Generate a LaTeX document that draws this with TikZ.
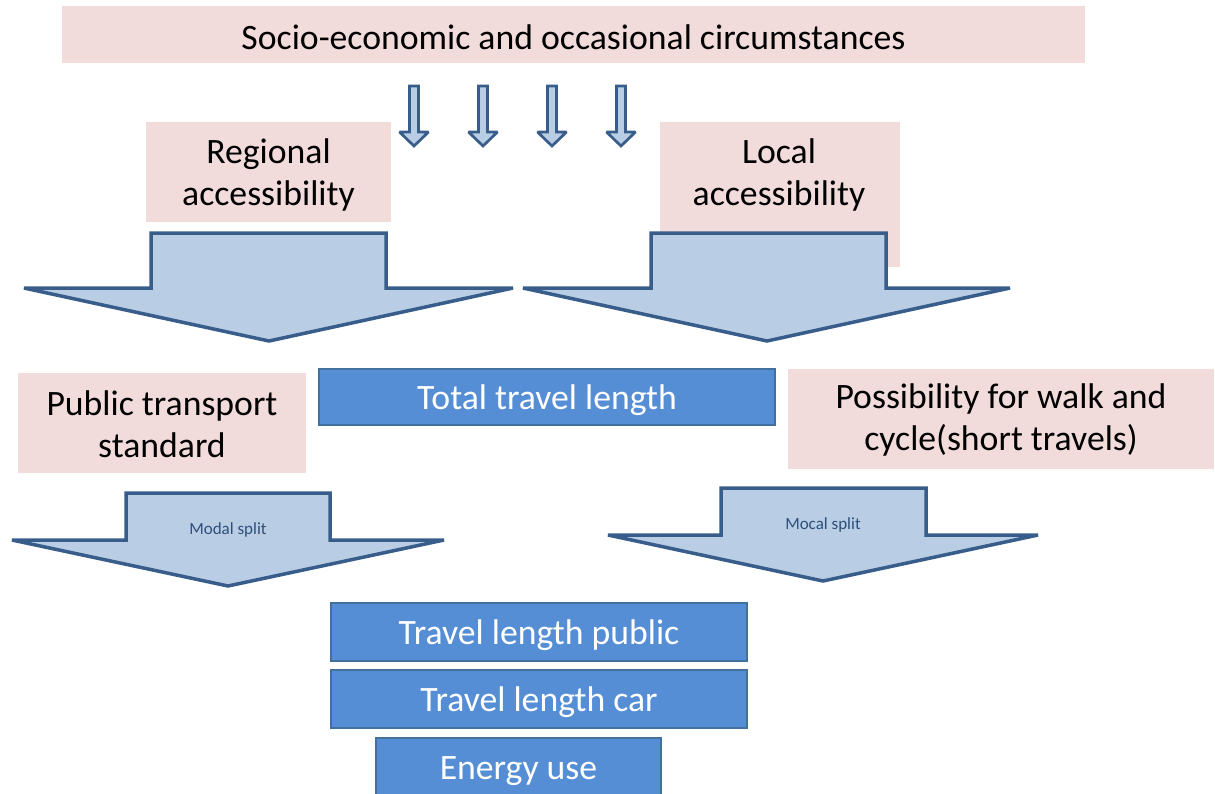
\documentclass[tikz,border=0pt]{standalone}
\usepackage{fontspec}
\setmainfont{Carlito}
\definecolor{pinkfill}{HTML}{F2DCDB}
\definecolor{bluefill}{HTML}{558ED5}
\definecolor{blueline}{HTML}{41719C}
\definecolor{arrowfill}{HTML}{B9CDE5}
\definecolor{arrowline}{HTML}{385D8A}
\definecolor{splittext}{HTML}{2E4F7A}
\tikzset{
  pinkbox/.style={fill=pinkfill, draw=none, inner sep=0pt},
  bluebox/.style={fill=bluefill, draw=blueline, line width=2bp, inner sep=0pt},
  boxtext/.style={inner sep=0pt, align=center,
    font=\fontsize{35.7bp}{42bp}\selectfont, text=black},
  whitetext/.style={boxtext, text=white},
  bigarrow/.style={fill=arrowfill, draw=arrowline, line width=3.5bp,
    line join=miter, miter limit=1.5},
  smallarrow/.style={fill=arrowfill, draw=arrowline, line width=2.7bp,
    line join=miter, miter limit=1.5},
  splitlabel/.style={font=\fontsize{17bp}{20bp}\selectfont, text=splittext, inner sep=0pt}
}
\begin{document}
\begin{tikzpicture}[x=1bp, y=-1bp]
\useasboundingbox (0,0) rectangle (1215,794);
\clip (0,0) rectangle (1215,794);

% top box
\node[pinkbox, minimum width=1023bp, minimum height=57bp] (sociobox) at (573.5,34.5) {};
\node[boxtext] (socio) at ([yshift=-2.5bp]sociobox.center)
  {Socio-economic and occasional circumstances};

% small arrows
\foreach \cx in {414,483,552,621}{
  \draw[smallarrow] (\cx-4.5,86) -- (\cx+4.5,86) -- (\cx+4.5,132) -- (\cx+14.5,132)
    -- (\cx,146) -- (\cx-14.5,132) -- (\cx-4.5,132) -- cycle;
}

% regional / local boxes
\node[pinkbox, minimum width=245bp, minimum height=100bp] (regionalbox) at (268.5,172) {};
\node[boxtext] (regional) at ([yshift=-3bp]regionalbox.center) {Regional\\accessibility};
\fill[pinkfill] (660,122) rectangle (900,267);
\node[boxtext] (local) at (779,175) {Local\\accessibility};

% big arrows
\draw[bigarrow] (151,233) -- (386,233) -- (386,288) -- (513,288) -- (269,341)
  -- (24,288) -- (151,288) -- cycle;
\draw[bigarrow] (651,233) -- (886,233) -- (886,288) -- (1010,288) -- (767,341)
  -- (523,288) -- (651,288) -- cycle;

% middle row
\node[pinkbox, minimum width=288bp, minimum height=100bp] (publicbox) at (162,423) {};
\node[boxtext] (public) at ([yshift=-1bp]publicbox.center) {Public transport\\standard};
\node[bluebox, minimum width=456bp, minimum height=56bp] (totalbox) at (547,397) {};
\node[whitetext] (total) at ([yshift=-3bp]totalbox.center) {Total travel length};
\node[pinkbox, minimum width=426bp, minimum height=100bp] (walkbox) at (1001,419) {};
\node[boxtext] (walk) at ([yshift=-1bp]walkbox.center)
  {Possibility for walk and\\cycle(short travels)};

% modal split arrows
\draw[bigarrow] (126,493) -- (330,493) -- (330,540) -- (444,540) -- (228,586)
  -- (12,540) -- (126,540) -- cycle;
\node[splitlabel] (modal) at (228,530) {Modal split};
\draw[bigarrow] (721,488) -- (926,488) -- (926,535) -- (1038,535) -- (823,581)
  -- (608,535) -- (721,535) -- cycle;
\node[splitlabel] (mocal) at (823,525) {Mocal split};

% bottom boxes
\node[bluebox, minimum width=416bp, minimum height=58bp] (tlpublicbox) at (539,632) {};
\node[whitetext] (tlpublic) at ([yshift=-3.5bp]tlpublicbox.center) {Travel length public};
\node[bluebox, minimum width=416bp, minimum height=58bp] (tlcarbox) at (539,699) {};
\node[whitetext] (tlcar) at ([yshift=-3.5bp]tlcarbox.center) {Travel length car};
\node[bluebox, minimum width=285bp, minimum height=62bp] (energybox) at (518.5,769) {};
\node[whitetext] (energy) at ([yshift=-2bp]energybox.center) {Energy use};
\end{tikzpicture}
\end{document}
